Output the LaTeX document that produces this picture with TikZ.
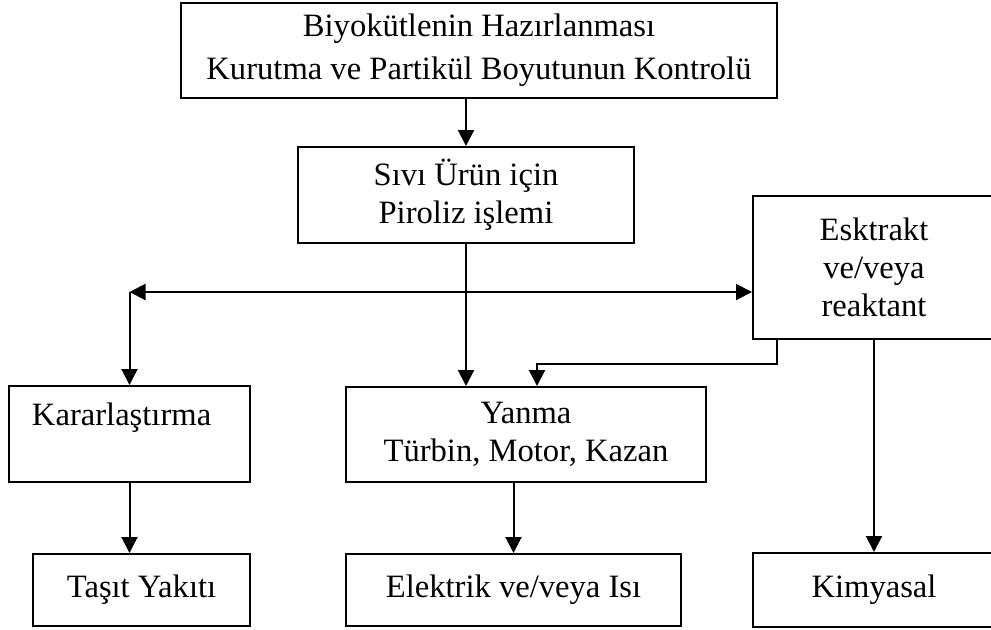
\documentclass[tikz,border=0pt]{standalone}
\usepackage{fontspec}
\setmainfont{Liberation Serif}
\usepackage{tikz}
\usetikzlibrary{arrows.meta,positioning,calc}
\tikzstyle{kutu}=[draw,line width=1pt,align=center,inner sep=2pt]
\tikzstyle{ok}=[line width=1pt,-{Triangle[length=8pt,width=8pt]}]

\begin{document}
\begin{tikzpicture}[x=0.5pt,y=-0.5pt,font=\fontsize{16.3}{19}\selectfont]
\useasboundingbox (0,0) rectangle (991,629);
% ust kutular
\node [kutu,minimum width=298pt,minimum height=47.5pt] (hazirlama) at (479,50.5)
	{Biyokütlenin Hazırlanması\\[2.5pt]Kurutma ve Partikül Boyutunun Kontrolü};
\node [kutu,minimum width=168pt,minimum height=48pt] (piroliz) at (466,195)
	{Sıvı Ürün için\\Piroliz işlemi};
\node [kutu,minimum width=121pt,minimum height=71.5pt] (ekstrakt) at (874,267.5)
	{Esktrakt\\ve/veya\\reaktant};
% orta sira
\node [kutu,minimum width=120.5pt,minimum height=48pt,text width=97.5pt,inner xsep=11.5pt,
	align=left,text depth=20pt] (karar) at (129.5,434) {Kararlaştırma};
\node [kutu,minimum width=180pt,minimum height=47.5pt] (yanma) at (526,434.5)
	{Yanma\\Türbin, Motor, Kazan};
% alt sira
\node [kutu,minimum width=108.5pt,minimum height=36pt] (tasit) at (141.5,590) {Taşıt Yakıtı};
\node [kutu,minimum width=167.5pt,minimum height=36pt] (elektrik) at (513.5,590) {Elektrik ve/veya Isı};
\node [kutu,minimum width=121pt,minimum height=37pt] (kimyasal) at (874,590) {Kimyasal};

% baglantilar
\coordinate (dal) at (piroliz.south |- 0,292);
\coordinate (sol) at (dal -| karar.north);
\draw [ok] (hazirlama.south -| piroliz) -- (piroliz.north);
\draw [ok] (piroliz.south) -- (piroliz.south |- yanma.north);
\draw [ok] (dal) -- (sol);
\draw [ok] (sol) -- (karar.north);
\draw [ok] (dal) -- (dal -| ekstrakt.west);
\draw [ok] ([xshift=12.5pt]ekstrakt.south west) -- ++(0,24) -| ([xshift=5.5pt]yanma.north);
\draw [ok] (ekstrakt.south) -- (kimyasal.north);
\draw [ok] (karar.south) -- (karar.south |- tasit.north);
\draw [ok] (elektrik.north |- yanma.south) -- (elektrik.north);
\end{tikzpicture}
\end{document}
